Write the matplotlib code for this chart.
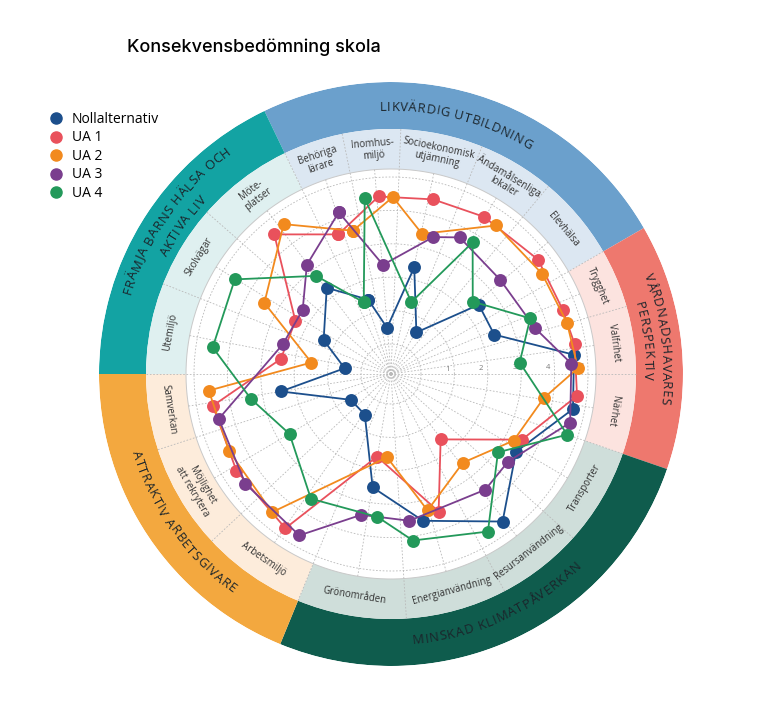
import numpy as np
import matplotlib
matplotlib.use("Agg")
import matplotlib.pyplot as plt
from matplotlib.lines import Line2D
from matplotlib.font_manager import FontProperties, findfont, get_font

FONT = "Open Sans"
plt.rcParams["font.family"] = [FONT, "DejaVu Sans"]

# ----------------------------------------------------------------------
# data: 18 criteria in 5 groups, 5 alternatives
# each point = (angle in degrees, score 0-5)
# ----------------------------------------------------------------------
cat_labels = ["Behöriga\nlärare", "Inomhus-\nmiljö", "Socioekonomisk\nutjämning",
              "Ändamålsenliga\nlokaler", "Elevhälsa", "Trygghet", "Valfrihet", "Närhet",
              "Transporter", "Resursanvändning", "Energianvändning", "Grönområden",
              "Arbetsmiljö", "Möjlighet\natt rekrytera", "Samverkan",
              "Utemiljö", "Skolvägar", "Möte-\nplatser"]
groups = ["LIKVÄRDIG UTBILDNING", "VÅRDNADSHAVARES PERSPEKTIV", "MINSKAD KLIMATPÅVERKAN",
          "ATTRAKTIV ARBETSGIVARE", "FRÄMJA BARNS HÄLSA OCH AKTIVA LIV"]
group_sizes = [5, 3, 4, 3, 3]

series = ["Nollalternativ", "UA 1", "UA 2", "UA 3", "UA 4"]

noll_ang = [107.0, 94.9, 77.7, 58.6, 38.3, 20.9, 6.0, -10.9, -31.9, -52.9, -77.7, -99.2,
            -122.8, -147.2, -171.0, 172.9, 153.3, 126.7]
noll_val = [1.43, 0.49, 2.37, 0.56, 2.45, 2.41, 4.61, 4.65, 3.51, 4.64, 3.60, 2.54,
            0.55, 0.53, 2.44, 0.50, 1.36, 2.32]

ua1_ang = [110.7, 94.0, 76.4, 59.4, 37.9, 20.6, 9.3, -6.7, -26.6, -52.8, -70.9, -99.6,
           -124.4, -148.0, -169.9, 172.2, 150.9, 129.9]
ua1_val = [3.57, 4.43, 4.48, 4.57, 4.68, 4.59, 4.67, 4.71, 3.49, 1.56, 3.46, 1.61,
           4.70, 4.56, 4.52, 2.43, 2.38, 4.55]

ua2_ang = [104.9, 89.4, 77.5, 54.7, 33.6, 16.2, 1.8, -9.0, -28.5, -50.9, -75.0, -92.7,
           -130.7, -154.4, -174.8, 171.8, 150.7, 125.6]
ua2_val = [3.54, 4.40, 3.40, 4.55, 4.53, 4.59, 4.70, 3.73, 3.28, 2.52, 3.33, 1.60,
           4.56, 4.47, 4.58, 1.51, 3.45, 4.62]

ua3_ang = [107.9, 94.2, 72.9, 63.3, 40.8, 17.6, 3.3, -15.2, -36.8, -50.8, -82.9, -101.9,
           -119.6, -143.0, -165.4, 164.6, 144.0, 127.6]
ua3_val = [4.19, 2.38, 3.39, 3.68, 3.42, 3.63, 4.51, 4.66, 3.48, 3.57, 3.53, 3.41,
           4.66, 4.56, 4.43, 2.46, 2.37, 3.23]

ua4_ang = [110.8, 98.5, 74.2, 58.2, 41.5, 21.8, 5.1, -19.0, -36.2, -58.4, -82.5, -95.4,
           -122.7, -149.4, -169.9, 171.5, 148.8, 127.4]
ua4_val = [1.40, 4.42, 1.34, 3.74, 2.37, 3.59, 2.97, 4.68, 3.07, 4.64, 4.13, 3.40,
           3.54, 2.63, 3.36, 4.50, 4.57, 2.80]

# ----------------------------------------------------------------------
# layout / style
# ----------------------------------------------------------------------
edges = [115.7, 101.5, 87.7, 68.2, 50.0, 30.0, 16.0, 0.0, -19.0, -42.0, -62.4, -86.4,
         -112.3, -137.0, -162.0, -180.0, -201.6, -221.3, -244.3]
SER_COLORS = ["#1c4f8c", "#e9515c", "#f28a1e", "#7a3e8e", "#23995a"]
RING_COLORS = ["#6ba0cc", "#ee786e", "#0f5c4d", "#f3a83f", "#13a3a3"]
BAND_COLORS = ["#dce7f2", "#fce3df", "#cfdeda", "#fdecdb", "#dff0f0"]

DPI = 100
PX = 33.4      # pixels per score unit
R0 = 30.0      # pixel radius of score 0
R_WHITE, R_BAND, R_OUT = 205, 245, 292
CX, CY = 391, 374


def rr(px):
    return (px - R0) / PX


fig = plt.figure(figsize=(7.6, 7.11), dpi=DPI)
ax = fig.add_axes([(CX - R_OUT) / 760, (711 - CY - R_OUT) / 711, 2 * R_OUT / 760, 2 * R_OUT / 711],
                  projection="polar")
ax.set_theta_zero_location("E")
ax.set_ylim(rr(0), rr(R_OUT))
ax.set_xticks([]); ax.set_yticks([])
ax.grid(False)
for s in ax.spines.values():
    s.set_visible(False)
ax.patch.set_facecolor("white")

# bands
e = np.array(edges)
starts = np.cumsum([0] + group_sizes[:-1])
for gi, (st, n) in enumerate(zip(starts, group_sizes)):
    a0, a1 = e[st], e[st + n]
    ax.bar(np.deg2rad((a0 + a1) / 2), rr(R_OUT) - rr(R_BAND), width=np.deg2rad(abs(a0 - a1)),
           bottom=rr(R_BAND), color=RING_COLORS[gi], edgecolor="none", zorder=1)
    ax.bar(np.deg2rad((a0 + a1) / 2), rr(R_BAND) - rr(R_WHITE), width=np.deg2rad(abs(a0 - a1)),
           bottom=rr(R_WHITE), color=BAND_COLORS[gi], edgecolor="none", zorder=1)

# grid
th = np.linspace(0, 2 * np.pi, 400)
GRID = dict(color="#b9b9b9", lw=0.6, ls=(0, (2, 2)), zorder=2)
for v in range(0, 6):
    ax.plot(th, np.full_like(th, v), **GRID)
ax.plot(th, np.full_like(th, rr(R_WHITE)), color="#c9c9c9", lw=0.7, zorder=2)
for a in edges[:-1]:
    ax.plot([np.deg2rad(a)] * 2, [rr(0), rr(R_BAND)], **GRID)
mids = (e[:-1] + e[1:]) / 2
for a in mids:
    ax.plot([np.deg2rad(a)] * 2, [rr(0), rr(R_WHITE)], **GRID)
for v in range(1, 6):
    ax.text(np.deg2rad(1.2), v - 0.2, str(v), fontsize=5.5, color="#777", ha="center", va="bottom",
            zorder=3)

# category labels
for lab, a in zip(cat_labels, mids):
    a = (a + 180) % 360 - 180
    rot = a + 90 if -175 < a < -15 else a - 90
    ax.text(np.deg2rad(a), rr((R_WHITE + R_BAND) / 2), lab, rotation=rot, rotation_mode="anchor",
            ha="center", va="center", fontsize=6.9, color="#333333", linespacing=1.05,
            multialignment="center", zorder=3)


# curved group labels
def adv(ch, size):
    font = get_font(findfont(FontProperties(family=FONT)))
    font.set_size(size, 72)
    return font.load_char(ord(ch)).linearHoriAdvance / 65536 * DPI / 72


def arc_text(text, mid, r_px, size=9.4, clockwise=True, track=0.7):
    ws = [adv(c, size) + track for c in text]
    span = sum(ws) / r_px
    sgn = -1 if clockwise else 1
    a = np.deg2rad(mid) - sgn * span / 2
    cap = 0.72 * size * DPI / 72
    rb = r_px - cap / 2 if clockwise else r_px + cap / 2
    for c, w in zip(text, ws):
        ac = a + sgn * w / 2 / r_px
        rot = np.rad2deg(ac) - 90 if clockwise else np.rad2deg(ac) + 90
        ax.text(ac, rr(rb), c, rotation=rot, rotation_mode="anchor", ha="center",
                va="baseline", fontsize=size, color="#1b252b", zorder=4)
        a += sgn * w / r_px


arc_text(groups[0], 75.4, 268)
arc_text("VÅRDNADSHAVARES", 7.5, 276)
arc_text("PERSPEKTIV", 7.5, 258)
arc_text(groups[2], -65.3, 266, clockwise=False)
arc_text(groups[3], -144.5, 266, clockwise=False)
arc_text("FRÄMJA BARNS HÄLSA OCH", 144.5, 277)
arc_text("AKTIVA LIV", 144.5, 258)

# series
angs = [noll_ang, ua1_ang, ua2_ang, ua3_ang, ua4_ang]
vals = [noll_val, ua1_val, ua2_val, ua3_val, ua4_val]
for i, (name, a, v) in enumerate(zip(series, angs, vals)):
    t = np.deg2rad(a + a[:1])
    ax.plot(t, v + v[:1], color=SER_COLORS[i], lw=1.3, marker="o", ms=9.3,
            markeredgewidth=0, zorder=5 + i, label=name)

handles = [Line2D([], [], ls="none", marker="o", ms=8, color=c) for c in SER_COLORS]
fig.legend(handles, series, loc="upper left", bbox_to_anchor=(50 / 760, 1 - 112 / 711),
           frameon=False, fontsize=10, handlelength=0.8, handletextpad=0.75,
           labelspacing=0.25, borderaxespad=0, borderpad=0)

fig.text(127 / 760, 1 - 47 / 711, "Konsekvensbedömning skola", fontsize=13,
         fontweight="medium", family=["Inter", "DejaVu Sans"], va="center", ha="left")

fig.savefig("out.png", dpi=DPI)
